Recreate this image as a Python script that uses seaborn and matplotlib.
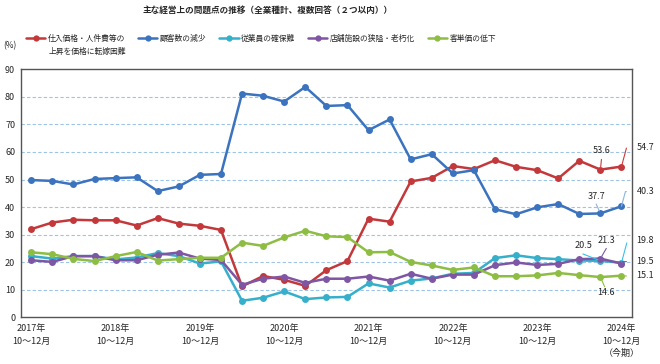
import numpy as np
import pandas as pd
import matplotlib
matplotlib.use("Agg")
import matplotlib.pyplot as plt
import seaborn as sns
from matplotlib.lines import Line2D

sns.set_style("white")
plt.rcParams['font.family'] = ['Noto Sans CJK JP', 'DejaVu Sans']

series_names = ["仕入価格・人件費等の\n上昇を価格に転嫁困難", "顧客数の減少", "従業員の確保難",
                "店舗施設の狭隘・老朽化", "客単価の低下"]
colors = ["#C3393B", "#3B73BE", "#36AFCB", "#7F56A3", "#8DBE43"]
leader_colors = ["#D0393B", "#8CB4E2", "#39C0EA", "#7F56A3", "#8DBE43"]

years = ["2017年", "2018年", "2019年", "2020年", "2021年", "2022年", "2023年", "2024年"]
tick_labels = [f"{y}\n10～12月" for y in years]
tick_labels[-1] = tick_labels[-1] + "\n（今期）"

red = [32.0, 34.4, 35.4, 35.2, 35.2, 33.3, 36.0, 34.0, 33.2, 31.7, 11.2, 15.0, 13.6, 11.4, 17.1,
       20.4, 35.8, 34.7, 49.3, 50.6, 54.9, 53.8, 57.0, 54.6, 53.4, 50.4, 56.8, 53.6, 54.7]
blue = [49.8, 49.5, 48.2, 50.2, 50.5, 50.8, 45.8, 47.5, 51.7, 52.0, 81.2, 80.4, 78.3, 83.6, 76.7,
        77.0, 67.9, 71.8, 57.3, 59.2, 52.2, 53.4, 39.2, 37.4, 39.9, 41.1, 37.5, 37.7, 40.3]
cyan = [22.2, 21.3, 22.2, 22.2, 21.0, 21.7, 23.3, 22.2, 19.5, 20.3, 6.0, 7.1, 9.4, 6.6, 7.2,
        7.4, 12.3, 10.8, 13.3, 14.1, 15.8, 16.1, 21.5, 22.5, 21.5, 21.1, 20.6, 20.5, 19.8]
purple = [20.7, 20.1, 22.2, 22.2, 20.7, 20.7, 22.7, 23.5, 21.3, 20.8, 11.8, 14.0, 14.8, 12.5, 14.0,
          14.0, 14.8, 13.3, 15.8, 14.0, 15.5, 15.5, 18.9, 19.9, 19.0, 19.4, 21.1, 21.3, 19.5]
green = [23.6, 22.9, 21.2, 20.4, 22.2, 23.7, 20.6, 21.1, 21.6, 21.6, 27.1, 25.9, 29.0, 31.4, 29.4,
         29.1, 23.6, 23.7, 20.1, 18.8, 17.2, 18.1, 14.9, 14.9, 15.2, 16.1, 15.3, 14.6, 15.1]

all_series = [red, blue, cyan, purple, green]
n = len(red)
rows = []
for name, vals in zip(series_names, all_series):
    for i, v in enumerate(vals):
        rows.append({"idx": i, "value": v, "series": name})
df = pd.DataFrame(rows)

fig = plt.figure(figsize=(6.6, 3.64), dpi=100)
ax = fig.add_axes([0.0314, 0.1283, 0.9262, 0.6813])

for y in range(10, 90, 10):
    ax.axhline(y, color="#9DC3E6", lw=0.8, ls=(0, (3, 2)), zorder=0)

sns.lineplot(data=df, x="idx", y="value", hue="series", hue_order=series_names,
             palette=colors, marker="o", markersize=5, markeredgewidth=0,
             linewidth=1.8, legend=False, ax=ax, zorder=3)

ax.set_xlim(-0.5, n - 0.5)
ax.set_ylim(0, 90)
ax.set_yticks(range(0, 91, 10))
ax.set_xticks(range(0, n, 4))
ax.set_xticklabels(tick_labels, fontsize=6.5, linespacing=1.5, va="top")
ax.set_xticks(np.arange(0.5, n - 0.5, 1), minor=True)
ax.tick_params(axis="x", which="major", length=0, pad=5)
ax.tick_params(axis="x", which="minor", direction="in", length=3, width=0.8, color="#404040")
ax.tick_params(axis="y", length=0, pad=4, labelsize=6.5)
ax.set_xlabel("")
ax.set_ylabel("")
for s in ax.spines.values():
    s.set_color("#555555")
    s.set_linewidth(1.0)
    s.set_visible(True)

# value labels with leader lines (last two periods)
last, prev = n - 1, n - 2
lab_fs = 6.5
def right_label(vals, col, ty):
    ax.annotate(f"{vals[last]:.1f}", xy=(last, vals[last]), xytext=(last + 0.72, ty),
                textcoords="data", fontsize=lab_fs, va="center", ha="left", annotation_clip=False,
                arrowprops=dict(arrowstyle="-", color=col, lw=0.8, shrinkA=5, shrinkB=0,
                                connectionstyle="angle,angleA=0,angleB=75,rad=0"))

right_label(red, leader_colors[0], 61.5)
right_label(blue, leader_colors[1], 45.6)
right_label(cyan, leader_colors[2], 27.8)
right_label(purple, leader_colors[3], 20.2)
right_label(green, leader_colors[4], 15.0)

def inner_label(vals, col, tx, ty, ex, ey):
    ax.text(tx, ty, f"{vals[prev]:.1f}", fontsize=lab_fs, ha="center", va="center")
    ax.annotate("", xy=(prev, vals[prev]), xytext=(ex, ey), textcoords="data",
                arrowprops=dict(arrowstyle="-", color=col, lw=0.8, shrinkA=0, shrinkB=2))

inner_label(red, leader_colors[0], 27.06, 60.7, 27.05, 57.3)
inner_label(blue, leader_colors[1], 26.8, 43.8, 26.8, 41.1)
inner_label(cyan, leader_colors[2], 26.2, 26.0, 26.17, 23.0)
inner_label(purple, leader_colors[3], 27.3, 27.8, 27.28, 25.0)
inner_label(green, leader_colors[4], 27.25, 8.9, 27.2, 11.1)

# title and unit
fig.text(268 / 660, 1 - 10 / 364, "主な経営上の問題点の推移（全業種計、複数回答（２つ以内））",
         fontsize=6.2, fontweight="bold", ha="center", va="center")
fig.text(3 / 660, 1 - 46 / 364, "(%)", fontsize=6.0, ha="left", va="center")

# legend: first line of the two-line label in the legend, second line placed beneath it
first_line, second_line = series_names[0].split("\n")
leg_labels = [first_line] + series_names[1:]
handles = [Line2D([0], [0], color=c, lw=1.8, marker="o", markersize=4.5, markeredgewidth=0)
           for c in colors]
leg = fig.legend(handles, leg_labels, loc="center left", bbox_to_anchor=(26 / 660, 1 - 39 / 364),
                 ncol=5, frameon=False, fontsize=5.6, handlelength=2.5, handletextpad=0.35,
                 columnspacing=1.6, borderaxespad=0, borderpad=0)
fig.canvas.draw()
bb = leg.get_texts()[0].get_window_extent()
fig.text(bb.x0 / fig.bbox.width, (bb.y0 + bb.height / 2 - 13) / fig.bbox.height, second_line,
         fontsize=5.6, ha="left", va="center")

fig.savefig("out.png", dpi=100)
